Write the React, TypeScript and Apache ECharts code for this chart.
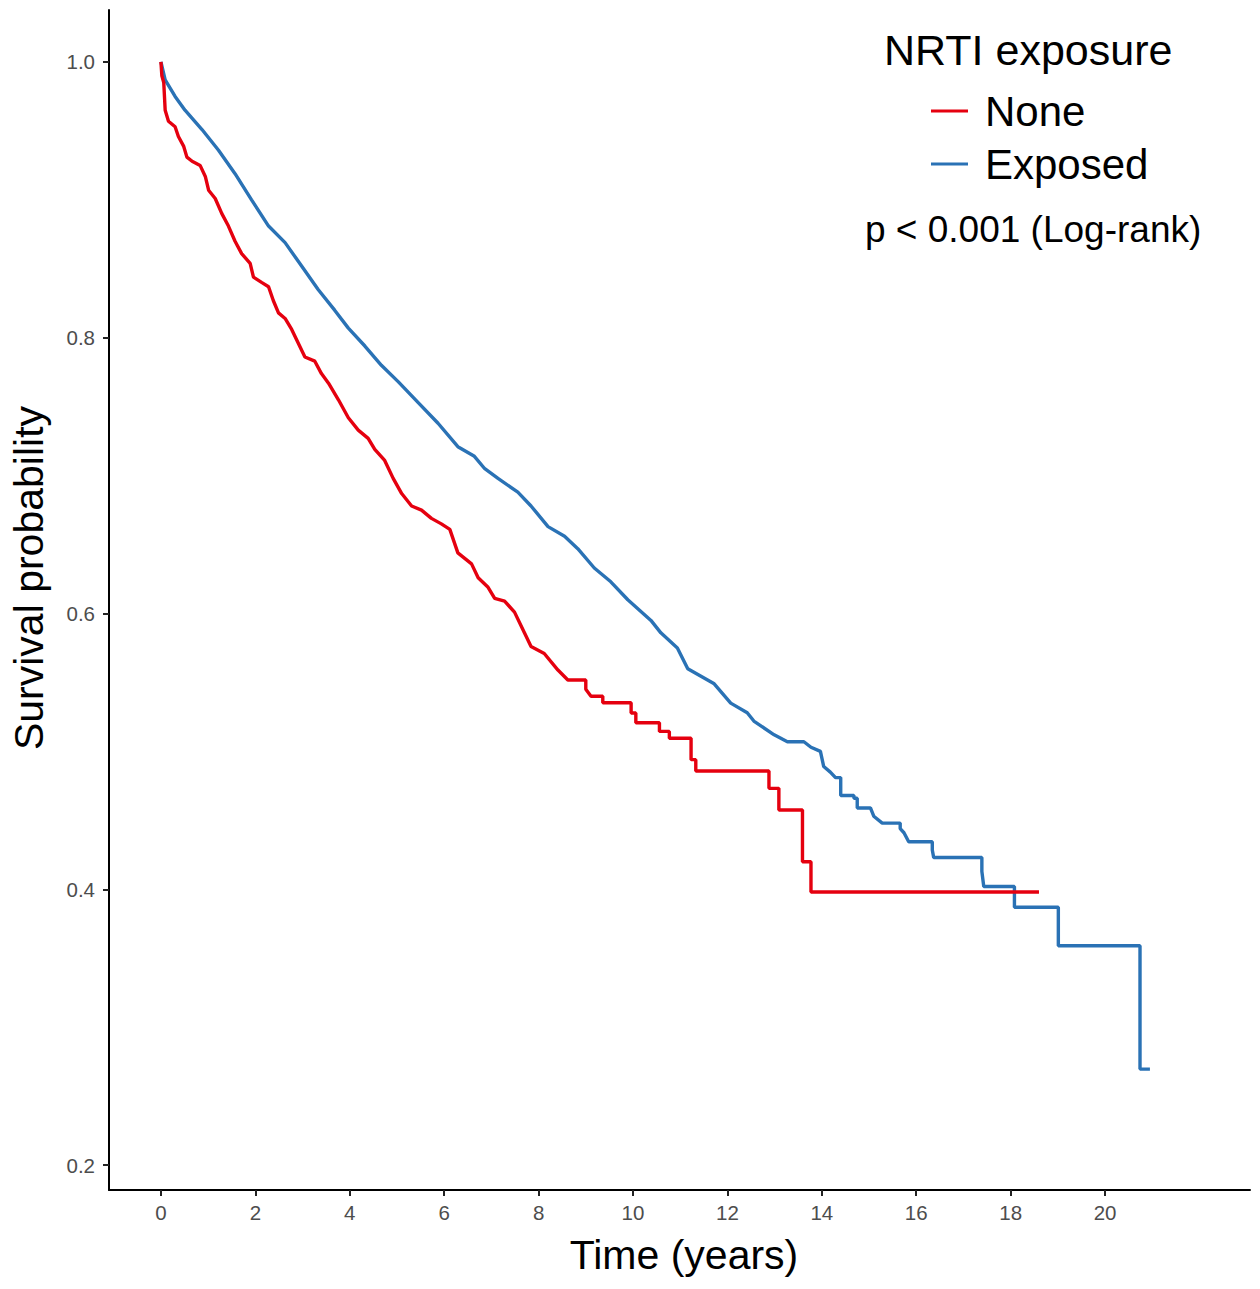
import React, { useEffect, useRef } from "react";
import * as echarts from "echarts";

// Kaplan–Meier path vertices [time (years), survival probability]
const noneCurve: [number, number][] = [
  [0, 1.0], [0.02, 0.99], [0.06, 0.985], [0.09, 0.965], [0.16, 0.957], [0.3, 0.953],
  [0.37, 0.946], [0.48, 0.939], [0.55, 0.931], [0.66, 0.928], [0.83, 0.925],
  [0.94, 0.917], [1.01, 0.907], [1.15, 0.901], [1.29, 0.89], [1.43, 0.881],
  [1.57, 0.87], [1.71, 0.861], [1.89, 0.854], [1.96, 0.844], [2.14, 0.84],
  [2.28, 0.837], [2.38, 0.827], [2.49, 0.818], [2.63, 0.814], [2.77, 0.806],
  [2.91, 0.796], [3.05, 0.786], [3.26, 0.783], [3.4, 0.774], [3.55, 0.767],
  [3.76, 0.755], [3.97, 0.742], [4.18, 0.733], [4.39, 0.727], [4.53, 0.719],
  [4.74, 0.711], [4.92, 0.698], [5.1, 0.687], [5.31, 0.678], [5.52, 0.675],
  [5.73, 0.669], [5.94, 0.665], [6.12, 0.661], [6.29, 0.644], [6.58, 0.636],
  [6.72, 0.626], [6.93, 0.619], [7.07, 0.611], [7.28, 0.609], [7.49, 0.601],
  [7.7, 0.586], [7.84, 0.576], [8.12, 0.571], [8.41, 0.559], [8.62, 0.5518],
  [9.0, 0.5518], [9.0, 0.545], [9.11, 0.54], [9.36, 0.54], [9.36, 0.5353],
  [9.96, 0.5353], [9.96, 0.5278], [10.06, 0.5278], [10.06, 0.5208], [10.56, 0.5208],
  [10.56, 0.5145], [10.77, 0.5145], [10.77, 0.5095], [11.23, 0.5095], [11.23, 0.494],
  [11.33, 0.494], [11.33, 0.4858], [12.88, 0.4858], [12.88, 0.4732], [13.09, 0.4732],
  [13.09, 0.4575], [13.59, 0.4575], [13.59, 0.42], [13.77, 0.42], [13.77, 0.398],
  [18.6, 0.398],
];

const exposedCurve: [number, number][] = [
  [0, 1.0], [0.09, 0.987], [0.3, 0.975], [0.51, 0.965], [0.87, 0.951], [1.22, 0.936],
  [1.57, 0.919], [1.92, 0.9], [2.28, 0.881], [2.63, 0.869], [2.98, 0.852],
  [3.33, 0.835], [3.68, 0.82], [3.97, 0.807], [4.32, 0.794], [4.67, 0.78],
  [5.03, 0.768], [5.45, 0.753], [5.87, 0.738], [6.29, 0.721], [6.64, 0.714],
  [6.86, 0.705], [7.14, 0.698], [7.56, 0.688], [7.84, 0.678], [8.2, 0.663],
  [8.55, 0.656], [8.83, 0.647], [9.18, 0.633], [9.53, 0.623], [9.89, 0.61],
  [10.38, 0.595], [10.59, 0.586], [10.94, 0.575], [11.16, 0.56], [11.72, 0.549],
  [12.07, 0.535], [12.42, 0.528], [12.56, 0.522], [12.99, 0.512], [13.27, 0.507],
  [13.62, 0.507], [13.77, 0.503], [13.97, 0.5], [14.04, 0.489], [14.18, 0.485],
  [14.29, 0.481], [14.4, 0.481], [14.4, 0.468], [14.68, 0.468], [14.68, 0.466],
  [14.75, 0.466], [14.75, 0.459], [15.03, 0.459], [15.1, 0.453], [15.28, 0.448],
  [15.66, 0.448], [15.66, 0.444], [15.74, 0.441], [15.84, 0.4345], [16.34, 0.4345],
  [16.34, 0.4285], [16.37, 0.423], [17.39, 0.423], [17.39, 0.413], [17.43, 0.402],
  [18.08, 0.402], [18.08, 0.387], [19.01, 0.387], [19.01, 0.359], [20.74, 0.359],
  [20.74, 0.2696], [20.95, 0.2696],
];

const seriesNames = ["None", "Exposed"];
const seriesColors = ["#E5000F", "#2A72B5"];
const xTicks = [0, 2, 4, 6, 8, 10, 12, 14, 16, 18, 20];
const yTicks = [0.2, 0.4, 0.6, 0.8, 1.0];
const legendTitle = "NRTI exposure";
const pValueText = "p < 0.001 (Log-rank)";
const xTitle = "Time (years)";
const yTitle = "Survival probability";

const FONT = "'Liberation Sans', Arial, sans-serif";

export default function App() {
  const ref = useRef<HTMLDivElement>(null);
  useEffect(() => {
    document.body.style.margin = "0";
    if (!ref.current) return;
    const chart = echarts.init(ref.current, undefined, { renderer: "svg" });
    chart.setOption({
      animation: false,
      backgroundColor: "#ffffff",
      textStyle: { fontFamily: FONT },
      grid: { left: 107, top: 10, width: 1143, height: 1180, containLabel: false },
      xAxis: {
        type: "value",
        min: -1.1,
        max: 23.07,
        name: xTitle,
        nameLocation: "middle",
        nameGap: 44,
        nameTextStyle: { fontSize: 41, color: "#000", fontFamily: FONT, padding: [0, 0, 0, 9] },
        axisLine: { show: true, onZero: false, lineStyle: { color: "#000", width: 2 } },
        axisTick: { show: true, customValues: xTicks, length: 6, lineStyle: { color: "#222", width: 2 } },
        axisLabel: { customValues: xTicks, margin: 12, fontSize: 20.5, color: "#4d4d4d", fontFamily: FONT },
        splitLine: { show: false },
      },
      yAxis: {
        type: "value",
        min: 0.1819,
        max: 1.0377,
        name: yTitle,
        nameLocation: "middle",
        nameGap: 60,
        nameTextStyle: { fontSize: 41, color: "#000", fontFamily: FONT, padding: [0, 0, 0, 44] },
        axisLine: { show: true, onZero: false, lineStyle: { color: "#000", width: 2 } },
        axisTick: { show: true, customValues: yTicks, length: 6, lineStyle: { color: "#222", width: 2 } },
        axisLabel: {
          customValues: yTicks,
          margin: 14,
          fontSize: 20.5,
          color: "#4d4d4d",
          fontFamily: FONT,
          formatter: (v: number) => v.toFixed(1),
        },
        splitLine: { show: false },
      },
      legend: {
        data: seriesNames,
        orient: "vertical",
        left: 931,
        top: 90,
        padding: 0,
        icon: "rect",
        itemWidth: 37,
        itemHeight: 3,
        itemGap: 11,
        textStyle: { fontSize: 42, color: "#000", lineHeight: 41, fontFamily: FONT, padding: [0, 0, 0, 12] },
      },
      graphic: [
        {
          type: "text",
          x: 884,
          y: 50,
          style: { text: legendTitle, fontSize: 43, fill: "#000", fontFamily: FONT, align: "left", verticalAlign: "middle" },
        },
        {
          type: "text",
          x: 865,
          y: 229,
          style: { text: pValueText, fontSize: 37, fill: "#000", fontFamily: FONT, align: "left", verticalAlign: "middle" },
        },
      ],
      series: [
        {
          name: seriesNames[0],
          type: "line",
          data: noneCurve,
          showSymbol: false,
          symbol: "none",
          color: seriesColors[0],
          lineStyle: { width: 3.4, color: seriesColors[0] },
          z: 3,
        },
        {
          name: seriesNames[1],
          type: "line",
          data: exposedCurve,
          showSymbol: false,
          symbol: "none",
          color: seriesColors[1],
          lineStyle: { width: 3.4, color: seriesColors[1] },
          z: 2,
        },
      ],
    });
    return () => chart.dispose();
  }, []);
  return <div ref={ref} style={{ width: 1260, height: 1289 }} />;
}
